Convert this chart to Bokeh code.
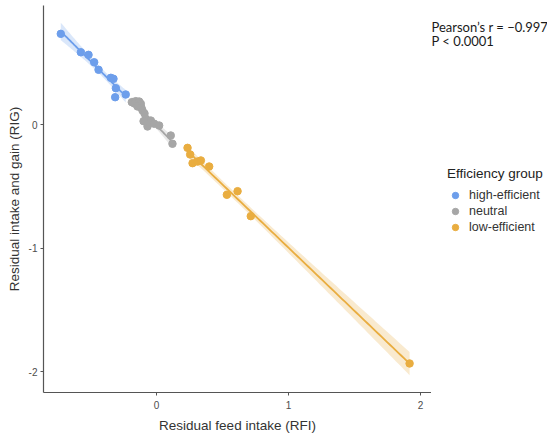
import numpy as np
from bokeh.plotting import figure
from bokeh.layouts import row
from bokeh.models import Range1d, Legend, LegendItem, Label, FixedTicker
from bokeh.embed import file_html
from bokeh.resources import INLINE

# ---- data ----
groups = ["high-efficient", "neutral", "low-efficient"]
colors = ["#6d9eeb", "#a6a6a6", "#e9ad40"]

high_x = [-0.725, -0.573, -0.515, -0.472, -0.439, -0.346, -0.326, -0.308, -0.313, -0.233]
high_y = [0.734, 0.585, 0.564, 0.504, 0.443, 0.378, 0.370, 0.294, 0.221, 0.243]

neut_x = [-0.187, -0.167, -0.157, -0.131, -0.119, -0.144, -0.114, -0.106, -0.091,
          -0.081, -0.043, -0.068, -0.098, -0.017, 0.020, 0.108, 0.121]
neut_y = [0.181, 0.170, 0.189, 0.186, 0.168, 0.146, 0.135, 0.113, 0.089,
          0.046, 0.032, -0.016, 0.027, 0.006, -0.008, -0.089, -0.156]

low_x = [0.235, 0.255, 0.273, 0.310, 0.336, 0.399, 0.533, 0.614, 0.714, 1.917]
low_y = [-0.189, -0.243, -0.313, -0.300, -0.291, -0.340, -0.569, -0.540, -0.742, -1.935]

x_ticks = [0, 1, 2]
y_ticks = [-2, -1, 0]
y_tick_labels = {-2: "-2", -1: "-1", 0: "0"}
annot_lines = ["Pearson\u2019s r = \u22120.997", "P < 0.0001"]
legend_title = "Efficiency group"


def t975(df):
    z = 1.959964
    return (z + (z**3 + z) / (4 * df) + (5 * z**5 + 16 * z**3 + 3 * z) / (96 * df**2)
            + (3 * z**7 + 19 * z**5 + 17 * z**3 - 15 * z) / (384 * df**3))


def lm_band(xs, ys, n_out=80):
    x = np.asarray(xs, float)
    y = np.asarray(ys, float)
    n = len(x)
    b, a = np.polyfit(x, y, 1)
    res = y - (a + b * x)
    s = np.sqrt(np.sum(res**2) / (n - 2))
    xm = x.mean()
    sxx = np.sum((x - xm) ** 2)
    xg = np.linspace(x.min(), x.max(), n_out)
    yg = a + b * xg
    se = s * np.sqrt(1.0 / n + (xg - xm) ** 2 / sxx)
    t = t975(n - 2)
    return xg, yg, yg - t * se, yg + t * se


H = 430
p = figure(width=431, height=H, output_backend="svg", toolbar_location=None,
           x_range=Range1d(-0.856, 2.083), y_range=Range1d(-2.170, 0.9636),
           frame_width=388, frame_height=387,
           min_border_left=43, min_border_top=5, min_border_bottom=38,
           min_border_right=0)
p.grid.visible = False
p.outline_line_color = None
p.background_fill_color = "white"

data_sets = [(high_x, high_y), (neut_x, neut_y), (low_x, low_y)]
for (xs, ys), col in zip(data_sets, colors):
    xg, yg, lo, hi = lm_band(xs, ys)
    p.varea(x=xg, y1=lo, y2=hi, fill_color=col, fill_alpha=0.25)
    p.line(x=xg, y=yg, line_color=col, line_width=1.8)
    p.scatter(x=xs, y=ys, size=7.5, fill_color=col, line_color=col)

for ax in (p.xaxis[0], p.yaxis[0]):
    ax.axis_line_color = "#555555"
    ax.axis_line_width = 1.2
    ax.major_tick_line_color = "#555555"
    ax.major_tick_in = 0
    ax.major_tick_out = 3
    ax.minor_tick_line_color = None
    ax.major_label_text_font = "Liberation Sans"
    ax.major_label_text_font_size = "10px"
    ax.major_label_text_color = "#4d4d4d"
    ax.axis_label_text_font = "Liberation Sans"
    ax.axis_label_text_font_size = "13.5px"
    ax.axis_label_text_font_style = "normal"
    ax.axis_label_text_color = "#333333"

p.xaxis.ticker = FixedTicker(ticks=x_ticks)
p.yaxis.ticker = FixedTicker(ticks=y_ticks)
p.yaxis.major_label_overrides = y_tick_labels
p.xaxis.axis_label = "Residual feed intake (RFI)"
p.yaxis.axis_label = "Residual intake and gain (RIG)"
p.xaxis.major_label_standoff = 5
p.xaxis.axis_label_standoff = 6
p.yaxis.major_label_standoff = 3
p.yaxis.axis_label_standoff = 4

# ---- side panel: annotation + legend ----
W2 = 116
q = figure(width=W2, height=H, output_backend="svg", toolbar_location=None,
           x_range=Range1d(0, W2), y_range=Range1d(H, 0),
           min_border_left=0, min_border_right=0, min_border_top=0, min_border_bottom=0)
q.axis.visible = False
q.grid.visible = False
q.outline_line_color = None

items = []
for col, name in zip(colors, groups):
    r = q.scatter(x=[np.nan], y=[np.nan], size=7.5, fill_color=col, line_color=col)
    items.append(LegendItem(label=name, renderers=[r]))

legend = Legend(items=items, location=(16, 152), title=legend_title,
                title_text_font="Liberation Sans", title_text_font_size="13.5px",
                title_text_font_style="normal", title_text_color="#222222",
                title_standoff=6,
                label_text_font="Liberation Sans", label_text_font_size="12.5px",
                label_text_color="#333333", label_standoff=6,
                glyph_width=16, glyph_height=16, spacing=0, padding=5, margin=0,
                border_line_color=None, background_fill_alpha=0)
q.add_layout(legend, "center")

for i, txt in enumerate(annot_lines):
    q.add_layout(Label(x=0, y=24 + i * 16, text=txt, text_font="Lato",
                       text_font_size="13px", text_color="#1a1a1a",
                       text_baseline="middle", text_align="left"))

open("out.html", "w").write(file_html(row(p, q), INLINE))
